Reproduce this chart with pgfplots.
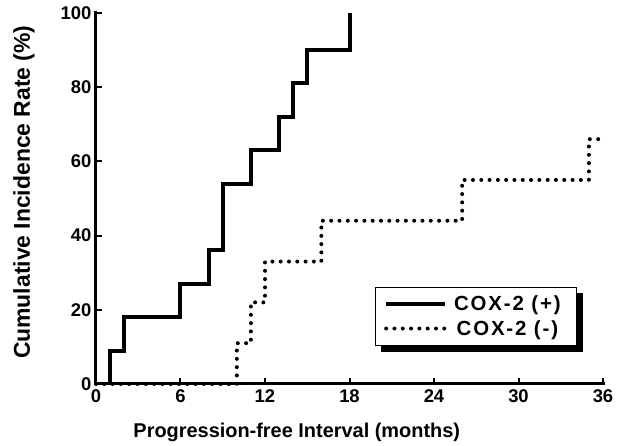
\documentclass[border=0pt]{standalone}
\usepackage{fontspec}
\setmainfont{Liberation Sans}
\usepackage{pgfplots}
\pgfplotsset{compat=1.18}
\usetikzlibrary{backgrounds}

\begin{document}
\begin{tikzpicture}
\begin{axis}[
  name=ax, at={(0,0)}, anchor=origin,
  scale only axis, width=507bp, height=371bp,
  xmin=0, xmax=36, ymin=0, ymax=100,
  xtick={0,6,...,36}, ytick={0,20,...,100},
  axis x line*=bottom, axis y line*=left,
  axis line style={line width=3bp, line cap=rect},
  tick align=inside, major tick length=6bp,
  tick style={line width=2bp, black},
  clip=false,
  /pgf/number format/assume math mode=true,
  tick label style={font=\bfseries\fontsize{18.5}{18.5}\selectfont},
  xticklabel style={yshift=-2bp},
  yticklabel style={xshift=-1bp},
  xlabel={Progression-free Interval (months)},
  ylabel={Cumulative Incidence Rate (\%)},
  every axis x label/.style={at={(rel axis cs:0.396,0)}, yshift=-54bp, anchor=base,
    font=\bfseries\fontsize{20}{20}\selectfont},
  every axis y label/.style={at={(rel axis cs:0,0.517)}, xshift=-72bp, rotate=90, anchor=center,
    font=\bfseries\fontsize{23}{23}\selectfont},
  legend style={name=leg, at={(0.949,0.102)}, anchor=south east, draw=black, line width=1bp,
    fill=white, font=\bfseries\fontsize{20.5}{20.5}\selectfont,
    inner xsep=9bp, inner ysep=7bp, row sep=4bp,
    nodes={inner xsep=7bp}},
  legend cell align=center,
  legend image code/.code={\draw[#1] (0bp,0bp) -- (59bp,0bp);},
]
% COX-2 (+): step curve, written out corner by corner
\addplot[black, line width=4bp] coordinates {
  (1,0) (1,9) (2,9) (2,18) (6,18) (6,27) (8,27) (8,36) (9,36) (9,54)
  (11,54) (11,63) (13,63) (13,72) (14,72) (14,81) (15,81) (15,90) (18,90) (18,100)
};
\addlegendentry{\addfontfeature{LetterSpace=9}COX-2 (+)}
% COX-2 (-)
\addplot[black, line width=4bp, line cap=round, dash pattern=on 0bp off 8.3bp] coordinates {
  (0,0) (10,0) (10,11) (11,11) (11,22) (12,22) (12,33) (16,33) (16,44)
  (26,44) (26,55) (35,55) (35,66) (36,66)
};
\addlegendentry{\addfontfeature{LetterSpace=9}COX-2 (-)}
\end{axis}
% shadow behind the legend box
\begin{scope}[on background layer]
  \fill[black] ([shift={(6bp,-6bp)}]leg.south west) rectangle ([shift={(6bp,-6bp)}]leg.north east);
\end{scope}
\useasboundingbox (-96bp,-61bp) rectangle (525bp,384bp);
\end{tikzpicture}
\end{document}
